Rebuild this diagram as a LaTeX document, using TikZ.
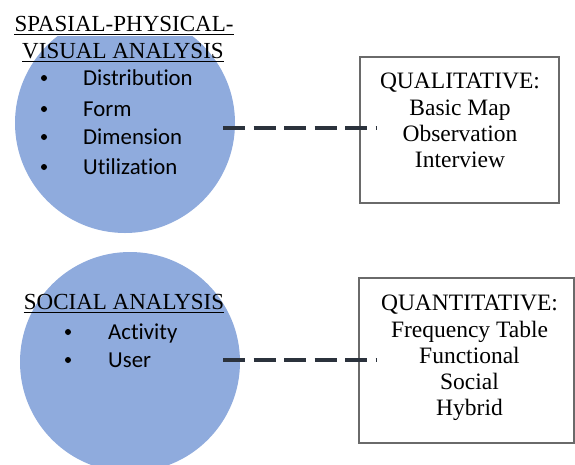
\documentclass[tikz,border=0pt]{standalone}
\usepackage{fontspec}
\setmainfont{Liberation Serif}
\newfontfamily\carlito[Ligatures=NoCommon]{Carlito}
\usetikzlibrary{calc}
\definecolor{circblue}{HTML}{8FABDD}
\definecolor{dashcol}{HTML}{2B323C}
\definecolor{boxgray}{HTML}{6A6A6A}
\tikzset{
 blob/.style={circle, fill=circblue, minimum size=220pt, inner sep=0pt},
 ttl/.style={font=\fontsize{23}{26}\selectfont, inner xsep=0pt, inner ysep=0pt, anchor=base},
 uline/.style={line width=1.8pt, black},
 item/.style={font=\carlito\fontsize{22.8}{26}\selectfont, inner sep=0pt, anchor=base west},
 dot/.style={circle, fill=black, minimum size=6pt, inner sep=0pt},
 methodbox/.style={draw=boxgray, line width=1.3pt, inner sep=0pt},
 boxtxt/.style={font=\fontsize{23.5}{26.3}\selectfont, align=center, inner sep=0pt, anchor=north},
 dashline/.style={draw=dashcol, line width=4.5pt, dash pattern=on 22pt off 8.5pt},
}
\begin{document}
\begin{tikzpicture}[x=1pt,y=-1pt]
\useasboundingbox (0,0) rectangle (575,464);
% circles
\node[blob] (c1) at (125,123) {};
\node[blob] (c2) at (130,362) {};
% title 1
\node[ttl, fill=white, inner ysep=5pt] (t1a) at (124,31) {SPASIAL-PHYSICAL-};
\node[ttl] (t1b) at (123,58) {VISUAL ANALYSIS};
\draw[uline] ([yshift=-3.5pt]t1a.base west) -- ([yshift=-3.5pt]t1a.base east);
\draw[uline] ([yshift=-3.5pt]t1b.base west) -- ([yshift=-3.5pt]t1b.base east);
% items 1
\node[dot] (b11) at (44,78) {};
\node[dot] (b12) at (44,109) {};
\node[dot] (b13) at (44,137) {};
\node[dot] (b14) at (44,167) {};
\node[item] (i11) at (83,85) {Distribution};
\node[item] (i12) at (83,116) {Form};
\node[item] (i13) at (83,144) {Dimension};
\node[item] (i14) at (83,174) {Utilization};
% title 2
\node[ttl] (t2) at (124,309) {SOCIAL ANALYSIS};
\draw[uline] ([yshift=-3.5pt]t2.base west) -- ([yshift=-3.5pt]t2.base east);
\node[dot] (b21) at (68,332) {};
\node[dot] (b22) at (68,360) {};
\node[item] (i21) at (108,339) {Activity};
\node[item] (i22) at (108,367) {User};
% boxes
\node[methodbox, minimum width=199pt, minimum height=146pt] (q1) at (459.5,130) {};
\node[boxtxt] (q1t) at (460,73) {QUALITATIVE:\\Basic Map\\Observation\\Interview};
\node[methodbox, minimum width=215pt, minimum height=165pt] (q2) at (466.5,360.5) {};
\node[boxtxt] (q2t) at (469.5,295) {QUANTITATIVE:\\Frequency Table\\Functional\\Social\\Hybrid};
% connectors
\coordinate (d1a) at ($(c1.east)+(-12,5)$);
\coordinate (d1b) at (d1a -| q1.west);
\draw[dashline] (d1a) -- ($(d1b)+(17,0)$);
\coordinate (d2a) at ($(c2.east)+(-17,-2)$);
\coordinate (d2b) at (d2a -| q2.west);
\draw[dashline] (d2a) -- ($(d2b)+(18,0)$);
\end{tikzpicture}
\end{document}
